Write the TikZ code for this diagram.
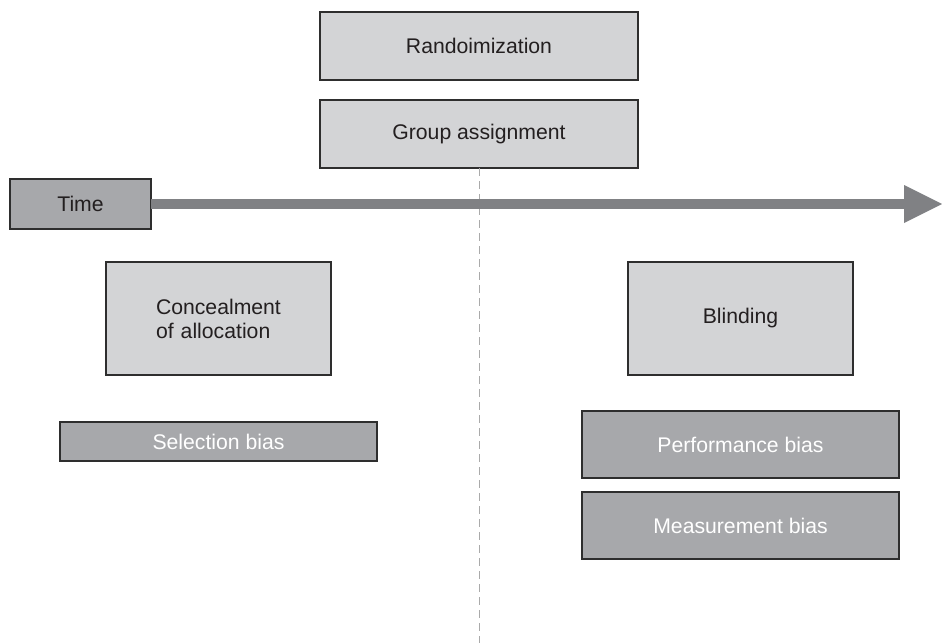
\documentclass[tikz,border=0pt]{standalone}
\usepackage{fontspec}
\setmainfont{Liberation Sans}
\usetikzlibrary{arrows.meta}
\definecolor{lightbox}{HTML}{D3D4D6}
\definecolor{darkbox}{HTML}{A7A8AB}
\definecolor{boxline}{HTML}{2E2E2E}
\definecolor{arrowgray}{HTML}{808184}
\definecolor{dashgray}{HTML}{AAAAAA}
\definecolor{textdark}{HTML}{231F20}
\tikzset{
  basebox/.style={draw=boxline, line width=1.3pt, inner sep=0pt, outer sep=0pt, align=center,
    font=\fontsize{21.2}{24}\selectfont},
  lightstyle/.style={basebox, fill=lightbox, text=textdark},
  darkstyle/.style={basebox, fill=darkbox, text=white},
  timestyle/.style={basebox, fill=darkbox, text=textdark},
}
\begin{document}
\begin{tikzpicture}[x=1pt,y=-1pt]
\useasboundingbox (0,0) rectangle (942,643);
\node[lightstyle, minimum width=318pt, minimum height=68pt] (rand) at (479,46) {Randoimization};
\node[lightstyle, minimum width=318pt, minimum height=68pt] (group) at (479,134) {Group assignment};
\coordinate (dashend) at (479,643);
\draw[dashgray, line width=1pt, dash pattern=on 8pt off 5pt] (group.south) -- (dashend);
% time arrow
\node[timestyle, minimum width=141pt, minimum height=50pt] (time) at (80.5,204) {Time};
\coordinate (arrowend) at (942,204);
\draw[arrowgray, line width=10pt, -{Triangle[length=38pt, width=38pt, line width=0pt]}] (time.east) -- (arrowend);
% left column
\node[lightstyle, minimum width=225pt, minimum height=113pt, text width=190pt, align=left] (conceal) at (218.5,318.5) {\hspace*{32.5pt}Concealment\\\hspace*{32.5pt}of allocation};
\node[darkstyle, minimum width=317pt, minimum height=39pt] (select) at (218.5,441.5) {Selection bias};
% right column
\node[lightstyle, minimum width=225pt, minimum height=113pt] (blind) at (740.5,318.5) {Blinding};
\node[darkstyle, minimum width=317pt, minimum height=67pt] (perf) at (740.5,444.5) {Performance bias};
\node[darkstyle, minimum width=317pt, minimum height=67pt] (meas) at (740.5,525.5) {Measurement bias};
\end{tikzpicture}
\end{document}
